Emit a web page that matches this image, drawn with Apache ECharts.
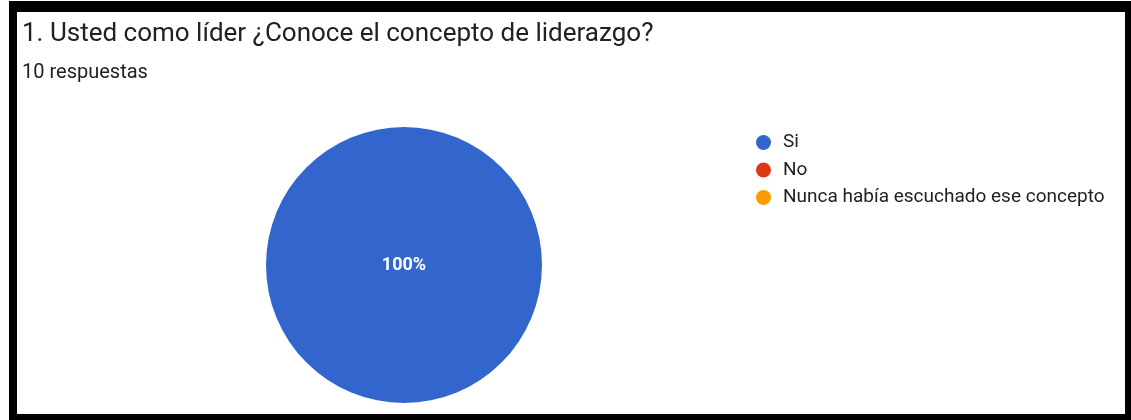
<!DOCTYPE html>
<html>
<head>
<meta charset="utf-8">
<script src="https://cdn.jsdelivr.net/npm/echarts@6/dist/echarts.min.js"></script>
<style>
html,body{margin:0;padding:0;background:#fff;}
#chart{width:1131px;height:420px;}
</style>
</head>
<body>
<div id="chart"></div>
<script>
const titleText = '1. Usted como líder ¿Conoce el concepto de liderazgo?';
const subtitleText = '10 respuestas';
const categories = ['Si', 'No', 'Nunca había escuchado ese concepto'];
const values = [10, 0, 0];
const colors = ['#3366cc', '#dc3912', '#ff9900'];

const chart = echarts.init(document.getElementById('chart'), null, {renderer: 'canvas'});
const data = categories.map((c, i) => ({
  name: c,
  value: values[i],
  itemStyle: {color: colors[i]},
  label: {show: values[i] > 0}
}));
chart.setOption({
  animation: false,
  backgroundColor: '#fff',
  title: [
    {text: titleText, left: 17, top: 16,
     textStyle: {fontFamily: 'Roboto', fontSize: 26, fontWeight: 'normal', color: '#202124'}},
    {text: subtitleText, left: 17, top: 58,
     textStyle: {fontFamily: 'Roboto', fontSize: 20, fontWeight: 'normal', color: '#202124'}}
  ],
  legend: {
    orient: 'vertical',
    left: 756, top: 133,
    padding: 0,
    icon: 'circle',
    itemWidth: 15, itemHeight: 15, itemGap: 8.5,
    textStyle: {fontFamily: 'Roboto', fontSize: 19, color: '#222', padding: [0, 0, 0, 7]},
    data: categories
  },
  series: [{
    type: 'pie',
    center: [404, 265],
    radius: 138,
    startAngle: 90,
    clockwise: true,
    silent: true,
    label: {show: false, position: 'center', formatter: '{d}%',
            color: '#fff', fontFamily: 'Roboto', fontSize: 18, fontWeight: 'bold'},
    labelLine: {show: false},
    itemStyle: {borderWidth: 0},
    data: data
  }],
  graphic: [
    {type: 'rect', shape: {x: 9, y: 1, width: 1122, height: 11}, style: {fill: '#000'}},
    {type: 'rect', shape: {x: 9, y: 414, width: 1122, height: 6}, style: {fill: '#000'}},
    {type: 'rect', shape: {x: 9, y: 1, width: 8, height: 419}, style: {fill: '#000'}},
    {type: 'rect', shape: {x: 1125, y: 1, width: 6, height: 419}, style: {fill: '#000'}}
  ]
});
</script>
</body>
</html>
